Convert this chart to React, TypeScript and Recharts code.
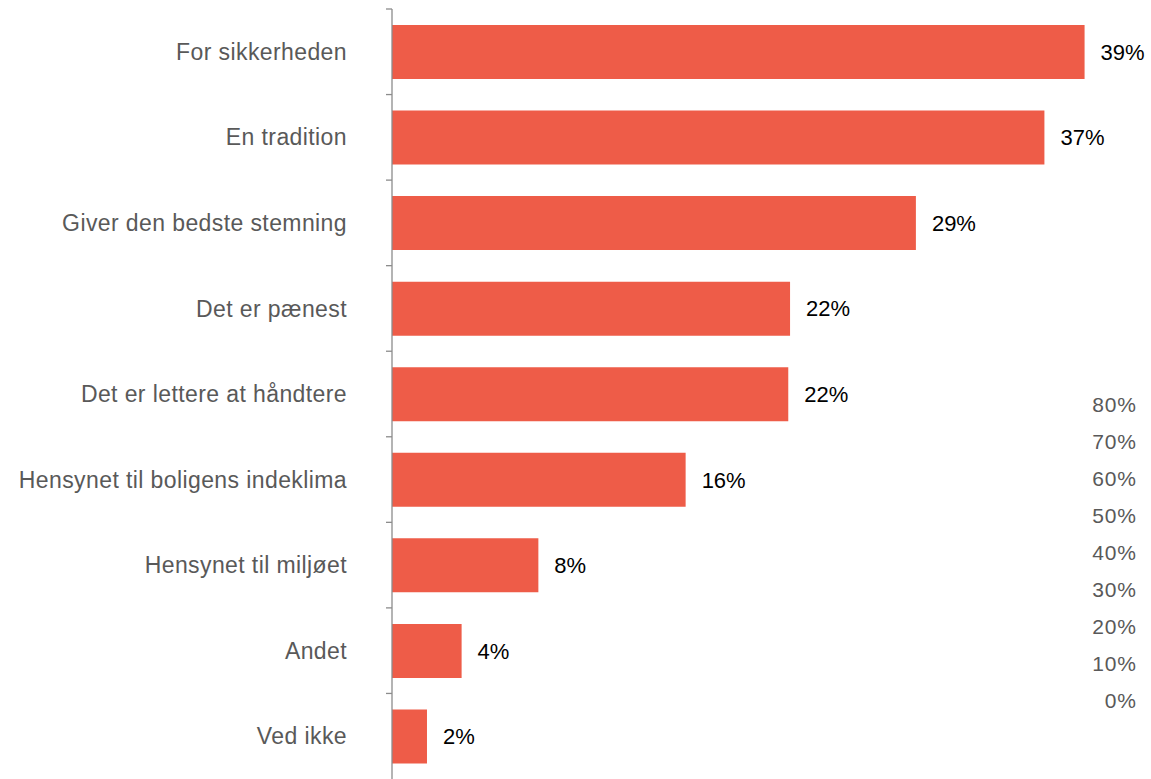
import { Bar, BarChart, LabelList, XAxis, YAxis } from "recharts";

const categories = [
  "For sikkerheden",
  "En tradition",
  "Giver den bedste stemning",
  "Det er pænest",
  "Det er lettere at håndtere",
  "Hensynet til boligens indeklima",
  "Hensynet til miljøet",
  "Andet",
  "Ved ikke",
];

const shares = [38.8, 36.55, 29.35, 22.3, 22.2, 16.45, 8.2, 3.9, 1.96];

const axisTickLabels = ["0%", "10%", "20%", "30%", "40%", "50%", "60%", "70%", "80%"];

const rows = categories.map((name, i) => ({ name, share: shares[i] }));

const FONT = "'Liberation Sans', Arial, Helvetica, sans-serif";
const W = 1151;
const H = 779;
const MARGIN = { top: 9, right: 45, bottom: 0, left: 0 };
const TICK_SIZE = 6;
const TICK_MARGIN = 39;
const AXIS_GREY = "#8c8c8c";

// tick marks sit on the band boundaries (excel style), labels in the band centre
const step = (H - MARGIN.top - MARGIN.bottom) / categories.length;

function CategoryTick(props: any) {
  const { x, y, payload } = props;
  const axisX = x + TICK_SIZE + TICK_MARGIN;
  const yb = y - step / 2;
  return (
    <g>
      <line x1={axisX - TICK_SIZE} x2={axisX} y1={yb} y2={yb} stroke={AXIS_GREY} strokeWidth={1.3} />
      <text
        x={x}
        y={y}
        dy="0.355em"
        textAnchor="end"
        fill="#595959"
        fontSize={23}
        letterSpacing={0.4}
        fontFamily={FONT}
      >
        {payload.value}
      </text>
    </g>
  );
}

export default function App() {
  return (
    <div style={{ position: "absolute", left: 0, top: 0, width: W, height: H, background: "#fff", fontFamily: FONT }}>
      <BarChart width={W} height={H} data={rows} layout="vertical" margin={MARGIN} barCategoryGap={0}>
        <XAxis type="number" domain={[0, 40]} hide />
        <YAxis
          type="category"
          dataKey="name"
          width={392}
          tickLine={false}
          tickSize={TICK_SIZE}
          tickMargin={TICK_MARGIN}
          axisLine={{ stroke: AXIS_GREY, strokeWidth: 1.3 }}
          tick={<CategoryTick />}
          interval={0}
        />
        <Bar dataKey="share" fill="#EE5C48" barSize={54} isAnimationActive={false}>
          <LabelList
            dataKey="share"
            position="right"
            offset={16}
            formatter={(v: unknown) => `${Math.round(Number(v))}%`}
            style={{ fill: "#000", fontSize: 22, fontFamily: FONT }}
          />
        </Bar>
      </BarChart>
      <div
        style={{
          position: "absolute",
          left: 1060,
          top: 386,
          width: 76.8,
          textAlign: "right",
          color: "#595959",
          fontSize: 21,
          letterSpacing: 0.8,
          lineHeight: "37px",
        }}
      >
        {[...axisTickLabels].reverse().map((t) => (
          <div key={t}>{t}</div>
        ))}
      </div>
    </div>
  );
}
